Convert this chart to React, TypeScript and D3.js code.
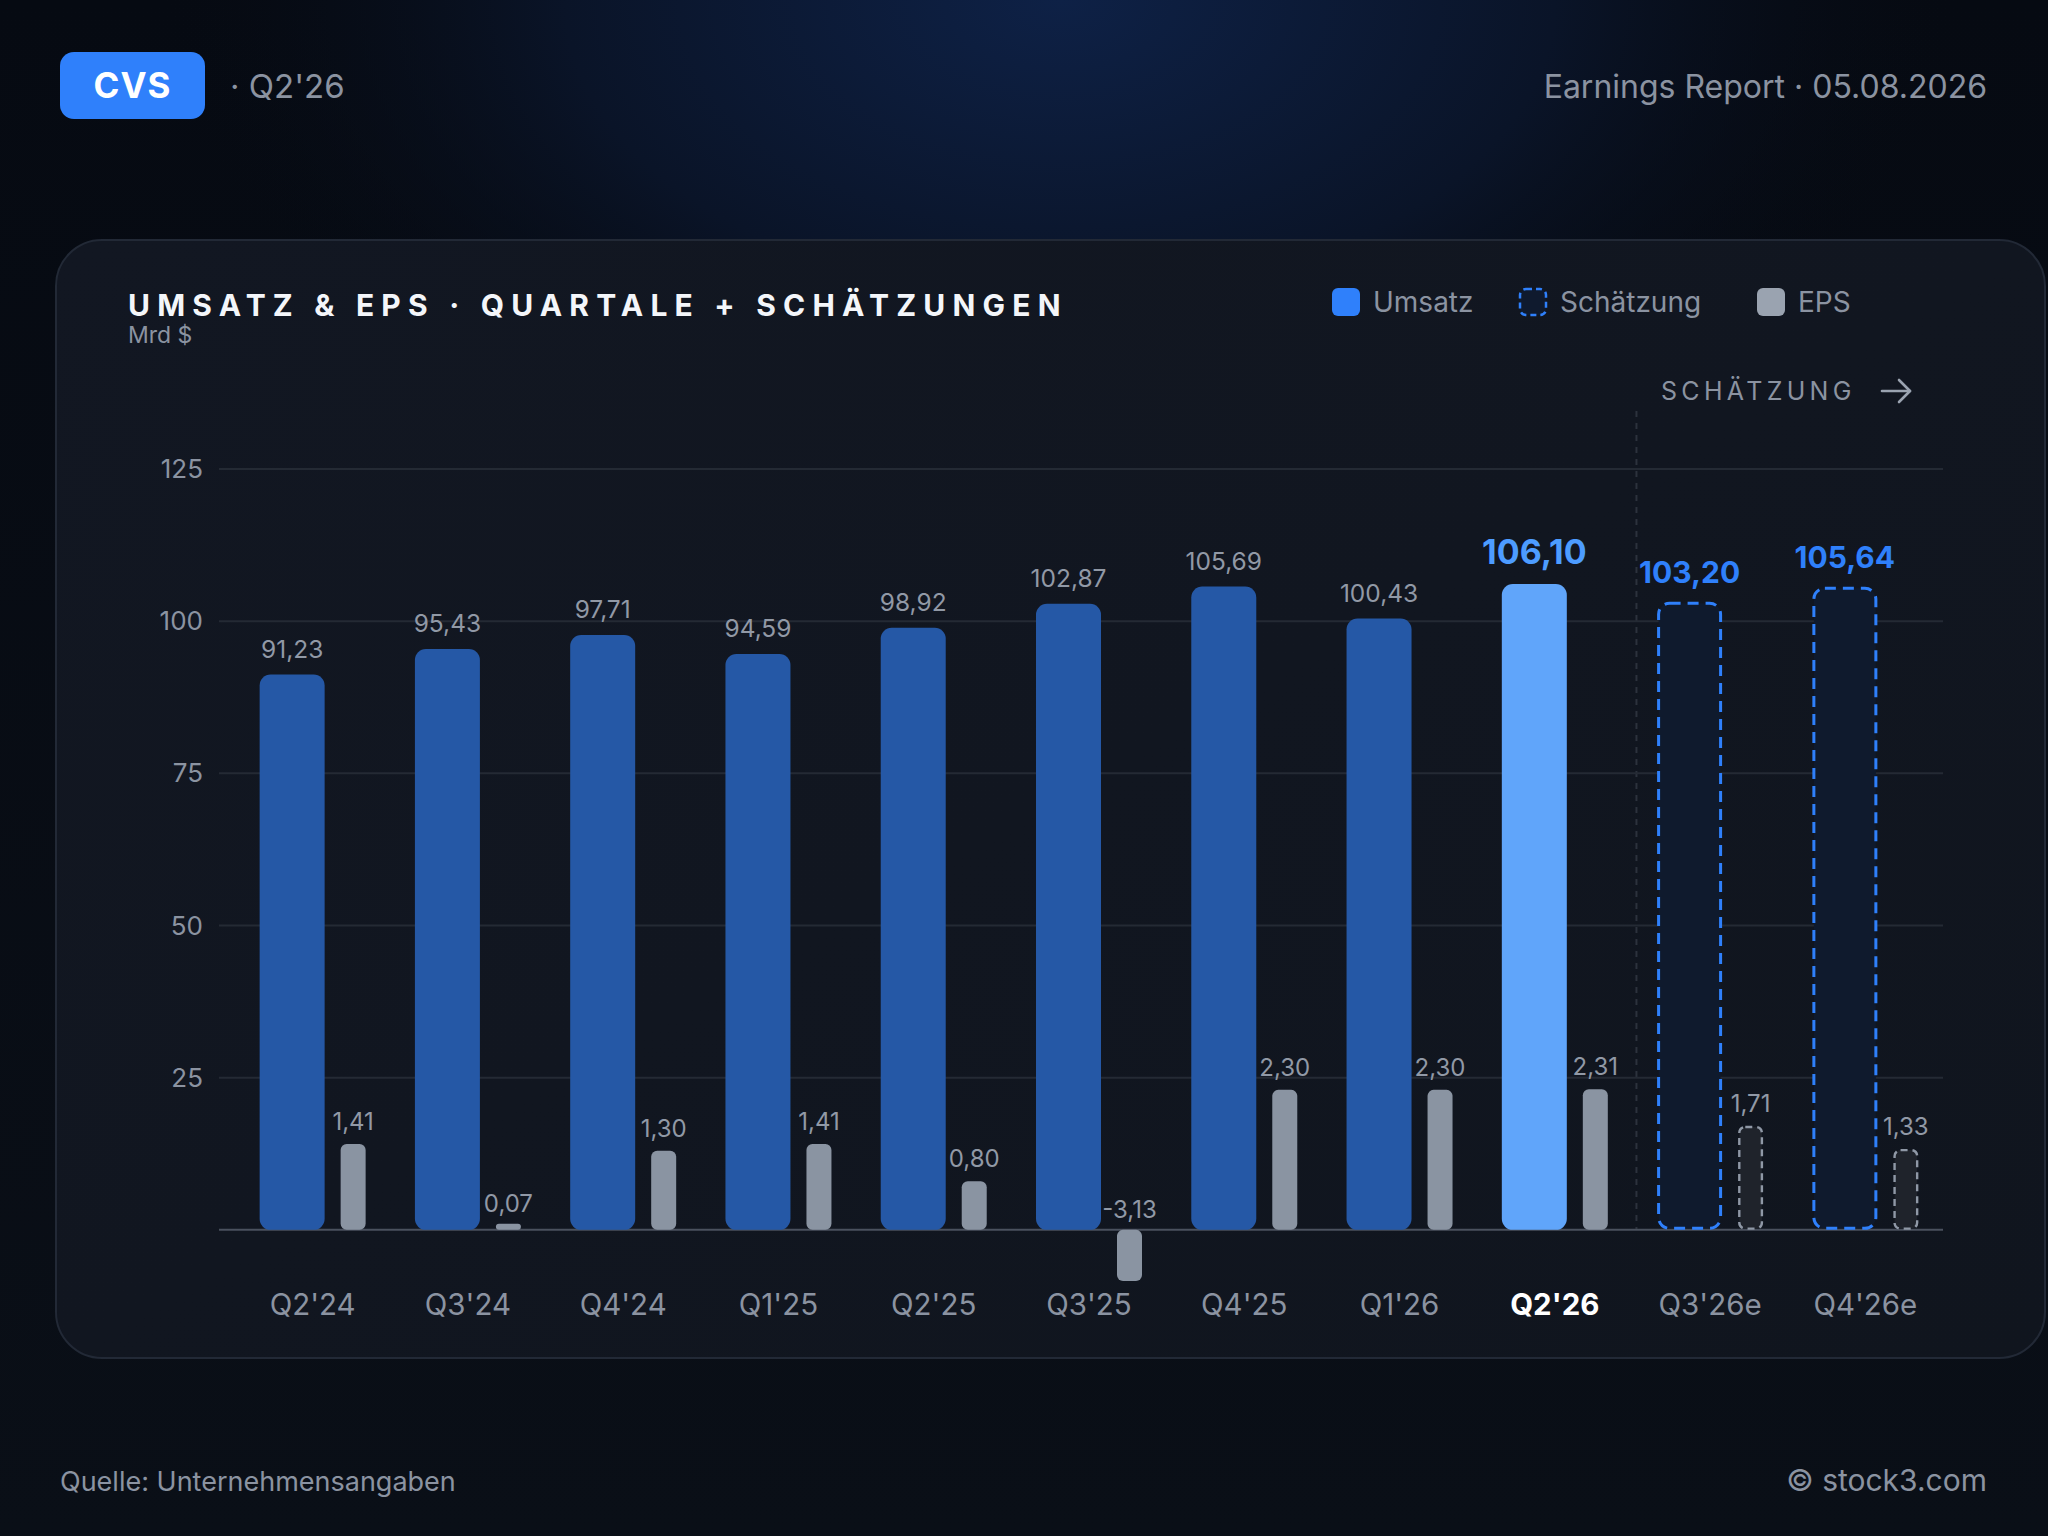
import React from "react";
import * as d3 from "d3";

const categories = ["Q2'24", "Q3'24", "Q4'24", "Q1'25", "Q2'25", "Q3'25", "Q4'25", "Q1'26", "Q2'26", "Q3'26e", "Q4'26e"];
const revenue = [91.23, 95.43, 97.71, 94.59, 98.92, 102.87, 105.69, 100.43, 106.1, 103.2, 105.64];
const eps = [1.41, 0.07, 1.3, 1.41, 0.8, -3.13, 2.3, 2.3, 2.31, 1.71, 1.33];
const isEstimate = [false, false, false, false, false, false, false, false, false, true, true];
const currentIndex = 8;
const yTicks = [25, 50, 75, 100, 125];
const legendItems = ["Umsatz", "Schätzung", "EPS"];

const W = 2048;
const H = 1536;
const FONT = "Inter, 'Noto Sans', sans-serif";

const fmt = (v: number) => v.toFixed(2).replace(".", ",");

export default function App() {
  const x = d3.scaleBand<string>().domain(categories).range([235, 1943]);
  const y = d3.scaleLinear().domain([-8.4, 125]).range([1281, 469]).clamp(true);
  const yEps = d3.scaleLinear().domain([-0.84, 12.5]).range([1281, 469]).clamp(true);
  const y0 = y(0);

  const revW = 65;
  const epsW = 25;
  const gap = 16;
  const groupW = revW + gap + epsW;

  const sepX = x(categories[currentIndex + 1])! + 4;

  return (
    <div style={{ position: "absolute", left: 0, top: 0, width: W, height: H }}>
      <svg width={W} height={H} viewBox={`0 0 ${W} ${H}`} style={{ display: "block", fontFamily: FONT }}>
        <defs>
          <radialGradient id="bgGlow" cx="1060" cy="0" r="900" gradientUnits="userSpaceOnUse" gradientTransform="translate(1060 0) scale(1 0.6) translate(-1060 0)">
            <stop offset="0" stopColor="#0e2146" />
            <stop offset="0.55" stopColor="#0a1428" />
            <stop offset="1" stopColor="#070b13" stopOpacity="0" />
          </radialGradient>
          <linearGradient id="bgBase" x1="0" y1="0" x2="0" y2="1">
            <stop offset="0" stopColor="#060a12" />
            <stop offset="1" stopColor="#0a0f17" />
          </linearGradient>
          <linearGradient id="cardFill" x1="0" y1="0" x2="1" y2="1">
            <stop offset="0" stopColor="#121722" />
            <stop offset="1" stopColor="#10151e" />
          </linearGradient>
        </defs>
        <rect x={0} y={0} width={W} height={H} fill="url(#bgBase)" />
        <rect x={0} y={0} width={W} height={H} fill="url(#bgGlow)" />

        {/* Header */}
        <rect x={60} y={52} width={145} height={67} rx={14} fill="#2f80fb" />
        <text x={132.5} y={98} textAnchor="middle" fill="#ffffff" fontSize={35} fontWeight={700} letterSpacing={1}>CVS</text>
        <text x={230} y={98} fill="#8b93a1" fontSize={33}>· Q2'26</text>
        <text x={1987} y={98} textAnchor="end" fill="#8b93a1" fontSize={32}>Earnings Report · 05.08.2026</text>

        {/* Card */}
        <rect x={56} y={240} width={1989} height={1118} rx={46} fill="url(#cardFill)" stroke="#222936" strokeWidth={2} />

        <text x={128} y={316} fill="#f4f6fa" fontSize={30} fontWeight={700} letterSpacing={7.2}>UMSATZ &amp; EPS · QUARTALE + SCHÄTZUNGEN</text>
        <text x={128} y={343} fill="#8b93a1" fontSize={23}>Mrd $</text>

        {/* Legend */}
        {legendItems.map((name, i) => {
          const lx = [1332, 1519, 1757][i];
          return (
            <g key={name}>
              {i === 0 && <rect x={lx} y={288} width={28} height={28} rx={6} fill="#2f80fb" />}
              {i === 1 && <rect x={lx + 1} y={289} width={26} height={26} rx={6} fill="#0f1a2e" stroke="#2f80fb" strokeWidth={2.5} strokeDasharray="6 4" />}
              {i === 2 && <rect x={lx} y={288} width={28} height={28} rx={6} fill="#9aa3b0" />}
              <text x={lx + 41} y={312} fill="#8b93a1" fontSize={28}>{name}</text>
            </g>
          );
        })}

        {/* Estimate marker */}
        <text x={1661} y={400} fill="#8b93a1" fontSize={25} letterSpacing={4.3}>SCHÄTZUNG</text>
        <g stroke="#9aa3b0" strokeWidth={2.6} fill="none" strokeLinecap="round" strokeLinejoin="round">
          <line x1={1882} y1={391} x2={1910} y2={391} />
          <polyline points="1899,380 1910,391 1899,402" />
        </g>
        <line x1={sepX} x2={sepX} y1={411} y2={y0} stroke="#2c323d" strokeWidth={2} strokeDasharray="6 6" />

        {/* Grid */}
        {yTicks.map((t) => (
          <g key={t}>
            <line x1={219} x2={1943} y1={y(t)} y2={y(t)} stroke="#242a34" strokeWidth={2} />
            <text x={203} y={y(t) + 9} textAnchor="end" fill="#8b93a1" fontSize={26}>{t}</text>
          </g>
        ))}
        <line x1={219} x2={1943} y1={y0} y2={y0} stroke="#4a515e" strokeWidth={2} />

        {/* Bars */}
        {categories.map((c, i) => {
          const cx = x(c)! + x.bandwidth() / 2;
          const rx = cx - groupW / 2;
          const ex = rx + revW + gap;
          const est = isEstimate[i];
          const cur = i === currentIndex;
          const rTop = y(revenue[i]);
          const e = eps[i];
          const eTop = e >= 0 ? yEps(e) : y0;
          const eBot = e >= 0 ? y0 : yEps(e);
          let eh = eBot - eTop;
          let eY = eTop;
          if (eh < 6) {
            eh = 6;
            eY = y0 - 6;
          }
          const revFill = cur ? "#60a5fa" : est ? "#0f1a2d" : "#2558a6";
          const labelY = e >= 0 ? eTop - 14 : y0 - 12;
          return (
            <g key={c}>
              {est ? (
                <rect x={rx + 1.5} y={rTop + 1.5} width={revW - 3} height={y0 - rTop - 3} rx={11} fill={revFill} stroke="#2f80fb" strokeWidth={3} strokeDasharray="11 7" />
              ) : (
                <rect x={rx} y={rTop} width={revW} height={y0 - rTop} rx={11} fill={revFill} />
              )}
              {est ? (
                <rect x={ex + 1.2} y={eY + 1.2} width={epsW - 2.4} height={eh - 2.4} rx={6} fill="#1f232b" stroke="#8f98a6" strokeWidth={2.4} strokeDasharray="7 5" />
              ) : (
                <rect x={ex} y={eY} width={epsW} height={eh} rx={e < 0.2 && e >= 0 ? 3 : 6} fill="#8a94a2" />
              )}
              <text
                x={rx + revW / 2}
                y={rTop - (cur ? 20 : est ? 19 : 17)}
                textAnchor="middle"
                fill={cur ? "#4d9cff" : est ? "#2f80fb" : "#9199a6"}
                fontSize={cur ? 34 : est ? 30 : 24.5}
                fontWeight={cur || est ? 700 : 400}
              >
                {fmt(revenue[i])}
              </text>
              <text x={ex + epsW / 2} y={labelY} textAnchor="middle" fill="#9199a6" fontSize={24}>
                {fmt(e)}
              </text>
              <text
                x={cx}
                y={1315}
                textAnchor="middle"
                fill={cur ? "#ffffff" : "#8b93a1"}
                fontSize={29.5}
                fontWeight={cur ? 700 : 400}
              >
                {c}
              </text>
            </g>
          );
        })}

        {/* Footer */}
        <text x={60} y={1491} fill="#8b93a1" fontSize={27}>Quelle: Unternehmensangaben</text>
        <text x={1987} y={1491} textAnchor="end" fill="#8b93a1" fontSize={30}>© stock3.com</text>
      </svg>
    </div>
  );
}
